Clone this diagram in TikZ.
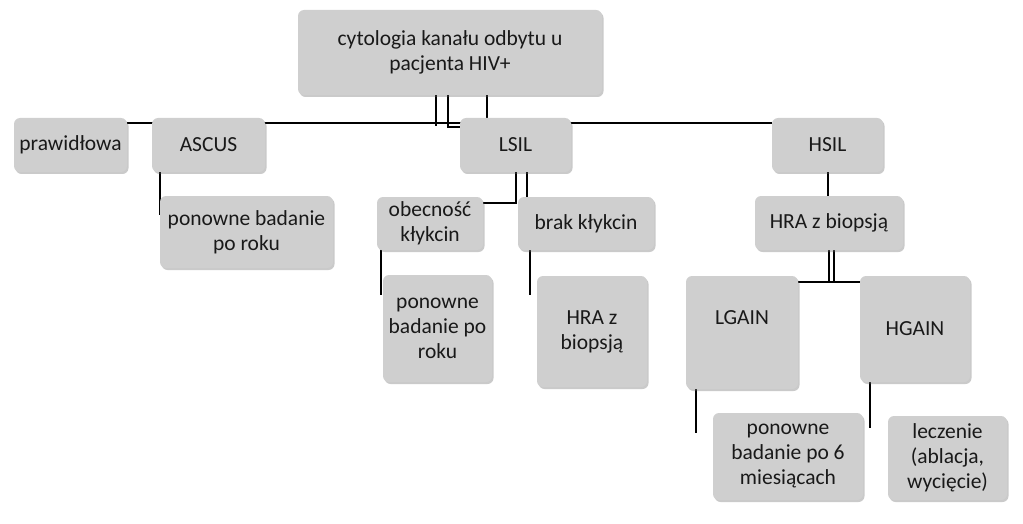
\documentclass[tikz,border=0pt]{standalone}
\usepackage{fontspec}
\setmainfont{Carlito}
\usetikzlibrary{shadows}
\begin{document}
\begin{tikzpicture}[x=1pt,y=-1pt,
  bx/.style={draw=none,fill=black!19,rounded corners=6pt,align=center,font=\fontsize{21.5}{25}\selectfont,text=black!90,
    drop shadow={shadow xshift=1.5pt,shadow yshift=-2pt,opacity=0.35,fill=black!60}},
  ln/.style={line width=2.6pt,black}]
\useasboundingbox (0,0) rectangle (1023,524);
\newcommand\bxx[6]{\node[bx,minimum width=#4-#2,minimum height=#5-#3,inner sep=1pt] (#1) at ({(#2+#4)/2},{(#3+#5)/2}) {#6};}
% connectors first (behind boxes)
\coordinate (t1) at (436,95); \coordinate (t2) at (448,95); \coordinate (t3) at (487,95);
\draw[ln] (127,123) -- (772,123);
\draw[ln] (t1) -- (436,126);
\draw[ln] (t2) -- (448,127) -- (462,127);
\draw[ln] (t3) -- (487,118);
\draw[ln] (160,172) -- (160,215);
\draw[ln] (516,172) -- (516,203) -- (483,203);
\draw[ln] (527,172) -- (527,197);
\draw[ln] (381,250) -- (381,295);
\draw[ln] (530,250) -- (530,295);
\draw[ln] (828,172) -- (828,196);
\draw[ln] (829,250) -- (829,282); \draw[ln] (834,250) -- (834,282);
\draw[ln] (798,282) -- (860,282);
\draw[ln] (696,389) -- (696,433);
\draw[ln] (870,382) -- (870,428);
\bxx{top}{298}{10}{602}{95}{cytologia kanału odbytu u\\pacjenta HIV+}
\bxx{pr}{14}{118}{127}{172}{prawidłowa}
\bxx{as}{152}{118}{265}{172}{ASCUS}
\bxx{ls}{460}{118}{571}{172}{LSIL}
\bxx{hs}{772}{118}{883}{172}{HSIL}
\bxx{asc}{160}{196}{333}{268}{ponowne badanie\\po roku}
\bxx{ob}{377}{197}{483}{250}{obecność\\kłykcin}
\bxx{br}{518}{197}{654}{250}{brak kłykcin}
\bxx{pon1}{383}{275}{492}{382}{ponowne\\badanie po\\roku}
\bxx{hra1}{537}{276}{647}{387}{HRA z\\biopsją}
\bxx{hra2}{755}{196}{903}{250}{HRA z biopsją}
\node[bx,minimum width=112,minimum height=113] (lg) at (742,332.5) {};
\node[font=\fontsize{21.5}{25}\selectfont,text=black!90] at (742,318) {LGAIN};
\bxx{hg}{860}{276}{970}{382}{HGAIN}
\bxx{pon2}{713}{413}{863}{500}{ponowne\\badanie po 6\\miesiącach}
\bxx{lec}{888}{416}{1007}{500}{leczenie\\(ablacja,\\wycięcie)}
\end{tikzpicture}
\end{document}
